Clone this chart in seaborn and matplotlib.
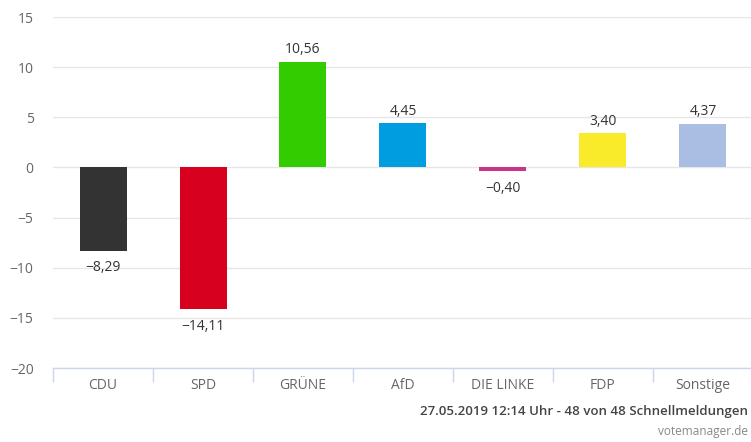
import matplotlib
matplotlib.use("Agg")
import matplotlib.pyplot as plt
import seaborn as sns
import pandas as pd

parties = ["CDU", "SPD", "GRÜNE", "AfD", "DIE LINKE", "FDP", "Sonstige"]
changes = [-8.29, -14.11, 10.56, 4.45, -0.40, 3.40, 4.37]
colors = ["#333333", "#d7001e", "#33cc00", "#009ee0", "#c8348a", "#f9ea2a", "#aabde3"]
y_ticks = [-20, -15, -10, -5, 0, 5, 10, 15]
footer = "27.05.2019 12:14 Uhr - 48 von 48 Schnellmeldungen"
credit = "votemanager.de"

sns.set_theme(style="white")
plt.rcParams["font.family"] = ["Open Sans", "DejaVu Sans"]

df = pd.DataFrame({"party": parties, "change": changes})

fig = plt.figure(figsize=(7.51, 4.42), dpi=100)
ax = fig.add_axes([0.0706, 0.1674, 0.932, 0.7941])

sns.barplot(data=df, x="party", y="change", hue="party", palette=colors,
            legend=False, width=0.47, ax=ax, saturation=1, linewidth=0)

ax.set_ylim(-20, 15)
ax.set_xlim(-0.5, 6.5)
ax.set_yticks(y_ticks)
ax.set_yticklabels([str(v).replace("-", "\u2212") for v in y_ticks])
ax.yaxis.grid(True, color="#e6e6e6", linewidth=1)
ax.set_axisbelow(True)
for s in ["top", "right", "left"]:
    ax.spines[s].set_visible(False)
ax.spines["bottom"].set_color("#ccd6eb")
ax.spines["bottom"].set_linewidth(1)

ax.set_xticks(range(len(parties)))
ax.set_xticklabels(parties)
ax.set_xticks([i - 0.5 for i in range(len(parties) + 1)], minor=True)
ax.tick_params(axis="x", which="major", length=0, pad=7, labelsize=10, labelcolor="#666666")
ax.tick_params(axis="x", which="minor", bottom=True, length=10, width=1,
               color="#ccd6eb", direction="out")
ax.tick_params(axis="y", length=0, pad=14, labelsize=10, labelcolor="#666666")
ax.set_xlabel("")
ax.set_ylabel("")

for i, v in enumerate(changes):
    lbl = f"{v:.2f}".replace(".", ",").replace("-", "\u2212")
    if v >= 0:
        ax.annotate(lbl, (i, v), xytext=(0, 3), textcoords="offset points",
                    ha="center", va="bottom", fontsize=10, color="#333333")
    else:
        ax.annotate(lbl, (i, v), xytext=(0, -7), textcoords="offset points",
                    ha="center", va="top", fontsize=10, color="#333333")

fig.text(0.996, 1 - 411 / 442, footer, ha="right", va="center", fontsize=9.5,
         color="#444444", fontweight="semibold")
fig.text(0.996, 1 - 432 / 442, credit, ha="right", va="center", fontsize=8.5,
         color="#888888")

fig.savefig("out.png", dpi=100)
